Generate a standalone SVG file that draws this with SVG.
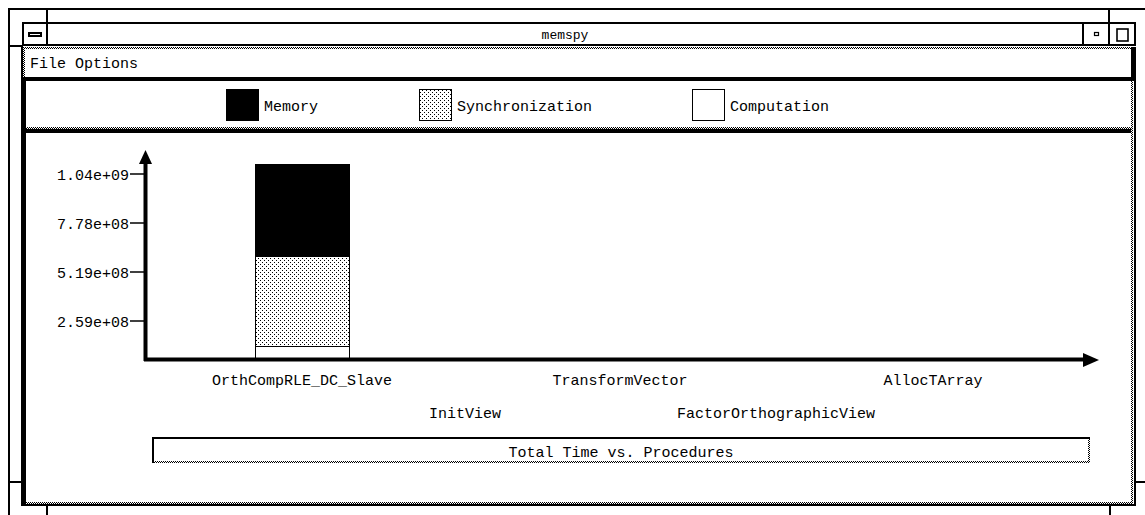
<svg xmlns="http://www.w3.org/2000/svg" width="1145" height="515" viewBox="0 0 1145 515">
<defs>
<pattern id="gray" width="2" height="2" patternUnits="userSpaceOnUse"><rect width="2" height="2" fill="#fff"/><rect x="0" y="0" width="1" height="1" fill="#000"/><rect x="1" y="1" width="1" height="1" fill="#000"/></pattern>
<pattern id="sync" width="4" height="4" patternUnits="userSpaceOnUse"><rect width="4" height="4" fill="#fff"/><rect x="0" y="0" width="1" height="1" fill="#000"/><rect x="2" y="2" width="1" height="1" fill="#000"/></pattern>
</defs>
<style>
text{font-family:"Liberation Mono","DejaVu Sans Mono",monospace;font-size:15px;fill:#000}
.blk{fill:#000}
.dot{fill:url(#gray)}
.ln{stroke:#000;fill:none}
</style>
<rect width="1145" height="515" fill="#fff"/>
<g id="frame">
<rect class="blk" x="8" y="8" width="1137" height="2"/>
<rect class="blk" x="8" y="8" width="2" height="507"/>
<rect class="blk" x="46" y="8" width="2" height="38"/>
<rect class="blk" x="1108" y="8" width="2" height="38"/>
<rect class="blk" x="46" y="506" width="2" height="9"/>
<rect class="blk" x="1109" y="506" width="2" height="9"/>
<rect class="blk" x="8" y="45" width="14" height="2"/>
<rect class="blk" x="8" y="481" width="14" height="2"/>
<rect class="blk" x="1136" y="481" width="9" height="2"/>
</g>
<g id="titlebar">
<rect class="ln" x="23" y="23" width="1112" height="22" stroke-width="2"/>
<rect class="blk" x="1082" y="22" width="2" height="24"/>
<rect class="ln" x="29" y="33" width="12" height="3" stroke-width="2"/>
<rect class="ln" x="1094.5" y="32.5" width="4" height="3" stroke-width="1.2"/>
<rect class="ln" x="1117" y="29" width="11" height="12" stroke-width="1.6"/>
<text x="565" y="39" text-anchor="middle" style="font-size:13px">memspy</text>
</g>
<g id="window">
<rect class="blk" x="21" y="46" width="2" height="31"/>
<rect class="dot" x="23" y="47" width="1108" height="2"/>
<rect class="dot" x="23" y="47" width="2" height="30"/>
<rect class="blk" x="1131" y="47" width="5" height="34"/>
<rect class="blk" x="21" y="77" width="1115" height="4"/>
<rect class="blk" x="21" y="77" width="5" height="429"/>
<rect class="dot" x="26" y="127" width="1107" height="2"/>
<rect class="dot" x="1131" y="81" width="2" height="48"/>
<rect class="blk" x="26" y="129" width="1105" height="4"/>
<rect class="dot" x="1131" y="129" width="2" height="375"/>
<rect class="dot" x="26" y="502" width="1107" height="2"/>
<rect class="blk" x="1134" y="81" width="2" height="425"/>
<rect class="blk" x="21" y="504" width="1115" height="2"/>
</g>
<g id="menubar">
<text x="30" y="68">File Options</text>
</g>
<g id="legend">
<rect x="226.5" y="89.5" width="32" height="31" fill="#000" stroke="#000"/>
<text x="264" y="111">Memory</text>
<rect x="419.5" y="89.5" width="32" height="31" fill="url(#sync)" stroke="#000"/>
<text x="457" y="111">Synchronization</text>
<rect x="692.5" y="89.5" width="32" height="31" fill="#fff" stroke="#000"/>
<text x="730" y="111">Computation</text>
</g>
<g id="bar">
<rect x="255.5" y="164.5" width="94" height="92" fill="#000" stroke="#000"/>
<rect x="255.5" y="256.5" width="94" height="90" fill="url(#sync)" stroke="#000"/>
<rect x="255.5" y="346.5" width="94" height="12" fill="#fff" stroke="#000"/>
</g>
<g id="axes">
<line class="ln" x1="145.5" y1="160" x2="145.5" y2="361" stroke-width="4"/>
<polygon class="blk" points="145.5,150 139,164 152,164"/>
<line class="ln" x1="144" y1="359.5" x2="1085" y2="359.5" stroke-width="4"/>
<polygon class="blk" points="1099,360 1083,353 1083,367"/>
<g class="ln" stroke-width="1.5">
<line x1="130" y1="174" x2="145" y2="174"/>
<line x1="130" y1="223" x2="145" y2="223"/>
<line x1="130" y1="272" x2="145" y2="272"/>
<line x1="130" y1="321" x2="145" y2="321"/>
</g>
<g text-anchor="end">
<text x="129" y="180">1.04e+09</text>
<text x="129" y="229">7.78e+08</text>
<text x="129" y="278">5.19e+08</text>
<text x="129" y="327">2.59e+08</text>
</g>
<g text-anchor="middle">
<text x="302" y="385">OrthCompRLE_DC_Slave</text>
<text x="465" y="418">InitView</text>
<text x="620" y="385">TransformVector</text>
<text x="776" y="418">FactorOrthographicView</text>
<text x="933" y="385">AllocTArray</text>
</g>
</g>
<g id="caption">
<rect class="blk" x="152" y="437" width="938" height="2"/>
<rect class="blk" x="152" y="437" width="2" height="26"/>
<rect class="dot" x="154" y="461" width="936" height="2"/>
<rect class="dot" x="1088" y="439" width="2" height="24"/>
<text x="621" y="457" text-anchor="middle">Total Time vs. Procedures</text>
</g>
</svg>
